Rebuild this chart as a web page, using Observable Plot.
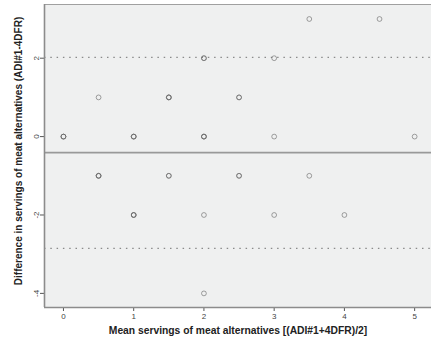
<!DOCTYPE html>
<html>
<head>
<meta charset="utf-8">
<script src="https://cdn.jsdelivr.net/npm/d3@7"></script>
<script src="https://cdn.jsdelivr.net/npm/@observablehq/plot@0.6"></script>
<style>
  html, body { margin: 0; padding: 0; background: #fff; }
  svg { display: block; }
</style>
</head>
<body>
<div id="chart"></div>
<script>
// Mean of the two methods (x) and difference (y); counts = overlapping observations
const meanVals  = [0, 0.5, 0.5, 1, 1, 1.5, 1.5, 2, 2, 2, 2, 2.5, 2.5, 3, 3, 3, 3.5, 3.5, 4, 4.5, 5];
const diffVals  = [0, 1, -1, 0, -2, 1, -1, 2, 0, -2, -4, 1, -1, 2, 0, -2, 3, -1, -2, 3, 0];
const counts    = [3, 1, 3, 3, 3, 3, 2, 2, 3, 1, 1, 2, 2, 1, 1, 1, 1, 1, 1, 1, 1];
const meanDiff  = -0.41;
const upperLoA  = 2.02;
const lowerLoA  = -2.85;
const xTicks    = [0, 1, 2, 3, 4, 5];
const yTicks    = [-4, -2, 0, 2];
const xLabel = "Mean servings of meat alternatives [(ADI#1+4DFR)/2]";
const yLabel = "Difference in servings of meat alternatives (ADI#1-4DFR)";

const points = [];
meanVals.forEach((m, i) => {
  for (let k = 0; k < counts[i]; k++) points.push({mean: m, diff: diffVals[i]});
});

const chart = Plot.plot({
  width: 431,
  height: 347,
  marginLeft: 44,
  marginRight: 0,
  marginTop: 4,
  marginBottom: 40,
  style: {fontFamily: "Liberation Sans, Arial, sans-serif", background: "#fff"},
  x: {domain: [-0.27, 5.24]},
  y: {domain: [-4.36, 3.37]},
  marks: [
    Plot.frame({fill: "#eff0f0", stroke: "#a0a0a0", strokeWidth: 1}),
    Plot.ruleY([upperLoA, lowerLoA], {stroke: "#8a8a8a", strokeWidth: 1.2, strokeDasharray: "1.5,4.8"}),
    Plot.ruleY([meanDiff], {stroke: "#999", strokeWidth: 1.6}),
    Plot.dot(points, {x: "mean", y: "diff", r: 2.4, stroke: "#666", strokeWidth: 1, strokeOpacity: 0.6, fill: "none"}),
    Plot.axisX({ticks: xTicks, tickFormat: d => String(d), tickSize: 4, tickPadding: 2, fontSize: 8, stroke: "#555", color: "#444", label: null}),
    Plot.axisY({ticks: yTicks, tickFormat: d => String(d), tickSize: 4, tickPadding: 2, tickRotate: -90, fontSize: 8, stroke: "#555", color: "#444", label: null}),
    Plot.ruleX([-0.27], {stroke: "#8c8c8c", strokeWidth: 1.6}),
    Plot.ruleY([-4.36], {stroke: "#8c8c8c", strokeWidth: 1.6}),
    Plot.text([xLabel], {frameAnchor: "bottom", dy: 26, text: d => d, fontSize: 10.3, fontWeight: "bold", fill: "#222"}),
    Plot.text([yLabel], {frameAnchor: "left", dx: -26, dy: -5, rotate: -90, textAnchor: "middle", text: d => d, fontSize: 10, fontWeight: "bold", fill: "#222"})
  ]
});
document.getElementById("chart").appendChild(chart);
</script>
</body>
</html>
